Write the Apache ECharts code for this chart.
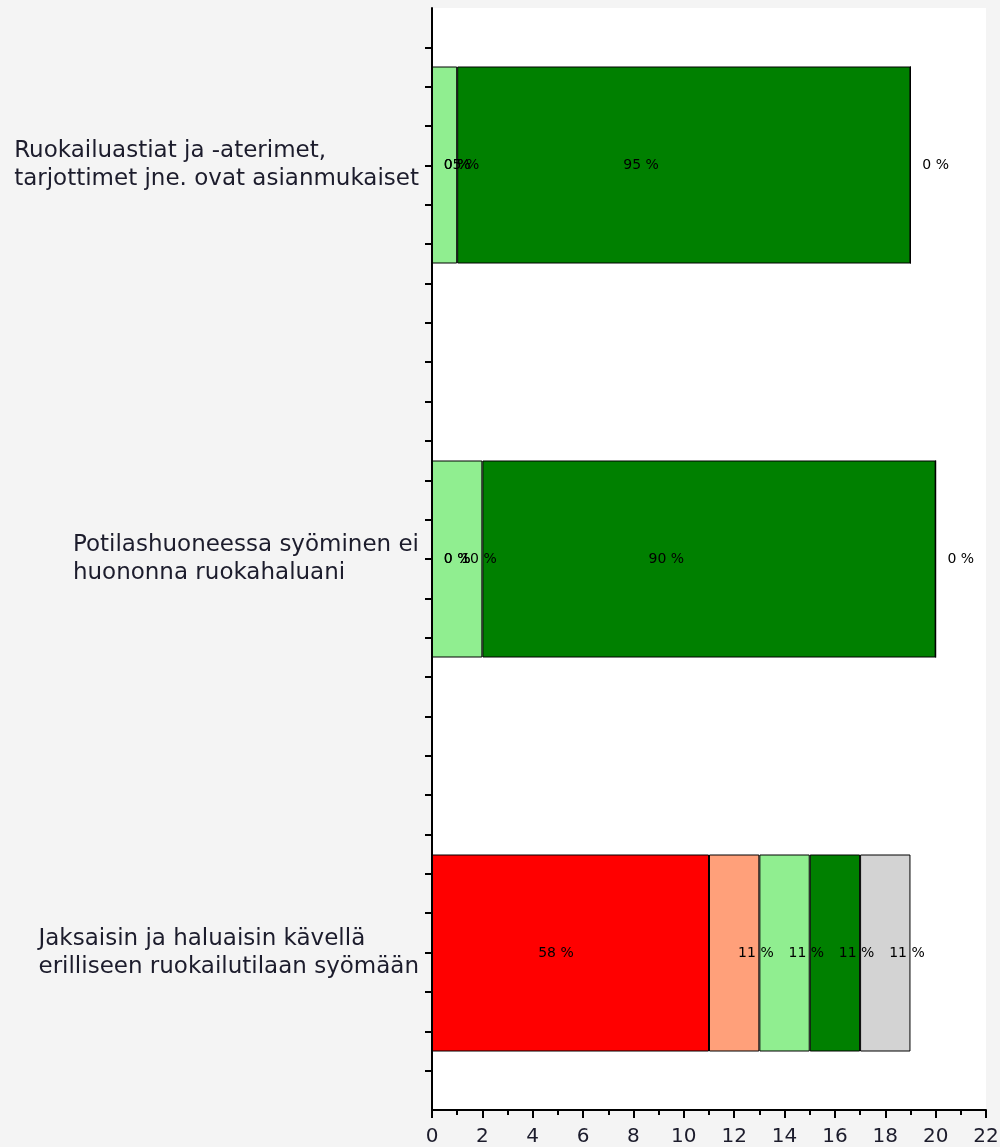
<!DOCTYPE html>
<html>
<head>
<meta charset="utf-8">
<script src="https://cdn.jsdelivr.net/npm/echarts@6/dist/echarts.min.js"></script>
<style>
html,body{margin:0;padding:0;background:#f4f4f4;}
#chart{width:1000px;height:1147px;}
</style>
</head>
<body>
<div id="chart"></div>
<script>
// ---- data ----
const categories = [
  'Ruokailuastiat ja -aterimet,\ntarjottimet jne. ovat asianmukaiset',
  'Potilashuoneessa syöminen ei\nhuononna ruokahaluani',
  'Jaksaisin ja haluaisin kävellä\nerilliseen ruokailutilaan syömään'
];
const seriesNames = ['Täysin eri mieltä', 'Jokseenkin eri mieltä', 'Jokseenkin samaa mieltä', 'Täysin samaa mieltä', 'En osaa sanoa'];
const redValues = [0, 0, 11];
const salmonValues = [0, 0, 2];
const lightGreenValues = [1, 2, 2];
const darkGreenValues = [18, 18, 2];
const grayValues = [0, 0, 2];
const xTickMin = 0, xTickMax = 22, xTickStep = 2;
const yTickValues = [1, 2, 3, 4, 5, 6, 7, 8, 9, 10, 11, 12, 13, 14, 15, 16, 17, 18, 19, 20, 21, 22, 23, 24, 25, 26, 27];

// ---- chart ----
const valueSets = [redValues, salmonValues, lightGreenValues, darkGreenValues, grayValues];
const colors = ['#ff0000', '#ffa07a', '#90ee90', '#008000', '#d3d3d3'];
const totals = categories.map((c, i) => valueSets.reduce((s, v) => s + v[i], 0));
const FONT = 'DejaVu Sans';

const series = valueSets.map((vals, k) => ({
  name: seriesNames[k],
  type: 'bar',
  stack: 'total',
  xAxisIndex: 1,
  yAxisIndex: 1,
  barWidth: '50%',
  data: vals,
  itemStyle: { color: colors[k], borderColor: '#000', borderWidth: 1 },
  label: {
    show: true,
    position: ['34%', '50%'],
    offset: [12, 0],
    align: 'left',
    verticalAlign: 'middle',
    fontFamily: FONT,
    fontSize: 14,
    color: '#000',
    formatter: p => Math.round(p.value / totals[p.dataIndex] * 100) + ' %'
  },
  silent: true,
  animation: false
}));

const chart = echarts.init(document.getElementById('chart'), null, { renderer: 'canvas' });
chart.setOption({
  backgroundColor: '#f4f4f4',
  animation: false,
  grid: [
    { left: 432, right: 14, top: 8, bottom: 37, show: true, backgroundColor: '#ffffff', borderWidth: 0, outerBoundsMode: 'none', containLabel: false },
    { left: 432, right: 14, top: -32, height: 1182, show: false, outerBoundsMode: 'none', containLabel: false }
  ],
  xAxis: [
    {
      gridIndex: 0, type: 'value', position: 'bottom', min: xTickMin, max: xTickMax, interval: xTickStep,
      axisLine: { show: true, onZero: false, lineStyle: { color: '#000', width: 2 } },
      axisTick: { show: true, length: 8, lineStyle: { color: '#000', width: 2 } },
      minorTick: { show: true, splitNumber: 2, length: 5, lineStyle: { color: '#000', width: 2 } },
      splitLine: { show: false },
      axisLabel: { fontFamily: FONT, fontSize: 20, color: '#1c1c2c', margin: 17 }
    },
    { gridIndex: 1, type: 'value', position: 'bottom', min: xTickMin, max: xTickMax, show: false }
  ],
  yAxis: [
    {
      gridIndex: 0, type: 'value', min: 0, max: 28, interval: 1, inverse: true,
      axisLine: { show: true, onZero: false, lineStyle: { color: '#000', width: 2 } },
      axisTick: { show: true, length: 7, customValues: yTickValues, lineStyle: { color: '#000', width: 2 } },
      axisLabel: { show: false },
      splitLine: { show: false }
    },
    {
      gridIndex: 1, type: 'category', data: categories, inverse: true,
      axisLine: { show: false }, axisTick: { show: false }, splitLine: { show: false },
      axisLabel: {
        margin: 13,
        formatter: v => v.split('\n').map(s => '{a|' + s + '}').join('\n'),
        rich: { a: { fontFamily: FONT, fontSize: 23, lineHeight: 28, color: '#1c1c2c', align: 'left' } }
      }
    }
  ],
  series: series
});
</script>
</body>
</html>
